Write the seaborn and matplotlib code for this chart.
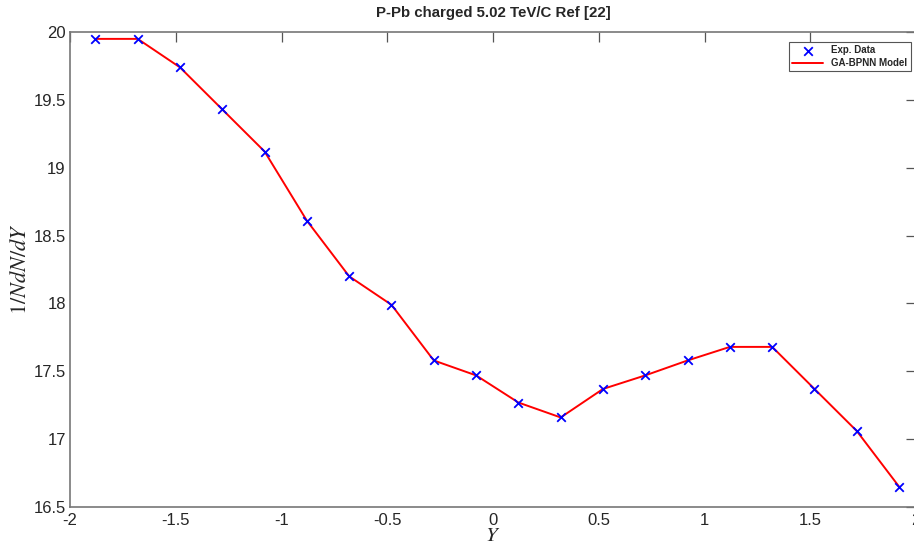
"""
P-Pb charged 5.02 TeV: experimental data vs GA-BPNN model.
"""

import matplotlib

matplotlib.use("Agg")
import matplotlib.pyplot as plt
import pandas as pd
import seaborn as sns

# rapidity bins and 1/N dN/dY values
rapidity = [-1.88, -1.68, -1.48, -1.28, -1.08, -0.88, -0.68, -0.48, -0.28, -0.08,
            0.12, 0.32, 0.52, 0.72, 0.92, 1.12, 1.32, 1.52, 1.72, 1.92]
exp_data = [19.95, 19.95, 19.74, 19.43, 19.12, 18.61, 18.20, 17.99, 17.58, 17.47,
            17.27, 17.16, 17.37, 17.47, 17.58, 17.68, 17.68, 17.37, 17.06, 16.65]
model = [19.95, 19.95, 19.74, 19.43, 19.12, 18.61, 18.20, 17.99, 17.58, 17.47,
         17.27, 17.16, 17.37, 17.47, 17.58, 17.68, 17.68, 17.37, 17.06, 16.65]

x_ticks = [-2, -1.5, -1, -0.5, 0, 0.5, 1, 1.5, 2]
x_tick_labels = ["-2", "-1.5", "-1", "-0.5", "0", "0.5", "1", "1.5", "2"]
y_ticks = [16.5, 17, 17.5, 18, 18.5, 19, 19.5, 20]
y_tick_labels = ["16.5", "17", "17.5", "18", "18.5", "19", "19.5", "20"]

df = pd.DataFrame({"Y": rapidity, "exp": exp_data, "model": model})

sns.set_style("white")
plt.rcParams["font.family"] = ["Liberation Sans", "DejaVu Sans"]
plt.rcParams["mathtext.fontset"] = "stix"

fig = plt.figure(figsize=(9.14, 5.44), dpi=100)
ax = fig.add_axes([0.0766, 0.068, 0.9256, 0.873])

sns.lineplot(data=df, x="Y", y="model", ax=ax, color="#ff0000", linewidth=1.4,
             label="GA-BPNN Model", zorder=2)
sns.scatterplot(data=df, x="Y", y="exp", ax=ax, marker="x", color="#0000ff",
                s=38, linewidth=1.3, label="Exp. Data", zorder=3)

ax.set_xlim(-2, 2)
ax.set_ylim(16.5, 20)
ax.set_xticks(x_ticks)
ax.set_xticklabels(x_tick_labels)
ax.set_yticks(y_ticks)
ax.set_yticklabels(y_tick_labels)
ax.tick_params(direction="in", length=7, width=0.9, color="#555555",
               labelsize=12, top=True, right=True, pad=3)
ax.tick_params(axis="x", pad=4)
for spine in ax.spines.values():
    spine.set_color("#777777")
    spine.set_linewidth(1.2)

ax.set_xlabel("$Y$", fontsize=15, labelpad=-1)
ax.set_ylabel("$1/NdN/dY$", fontsize=16, labelpad=2)
ax.set_title("P-Pb charged 5.02 TeV/C Ref [22]", fontsize=10.8, fontweight="bold", pad=11)

handles, labels = ax.get_legend_handles_labels()
order = [labels.index("Exp. Data"), labels.index("GA-BPNN Model")]
leg = ax.legend([handles[i] for i in order], [labels[i] for i in order],
                loc="upper right", bbox_to_anchor=(0.9995, 0.99), fancybox=False,
                framealpha=1, edgecolor="#555555", prop={"size": 7, "weight": "bold"},
                handlelength=3.2, borderpad=0.35, labelspacing=0.3)
leg.get_frame().set_linewidth(0.8)

fig.savefig("out.png", dpi=100)
plt.close(fig)
